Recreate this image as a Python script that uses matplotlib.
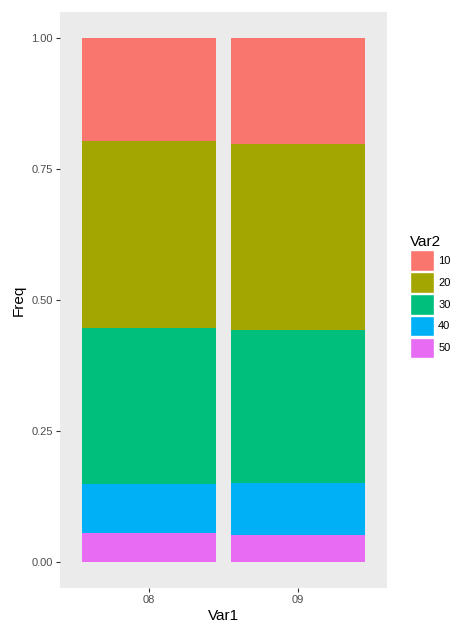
import matplotlib.pyplot as plt
from matplotlib.patches import Patch
import numpy as np

plt.rcParams['font.family'] = ['Liberation Sans', 'DejaVu Sans']

# data (fill-stacked proportions)
var1 = ['08', '09']
var2 = ['10', '20', '30', '40', '50']
freq = {
    '10': [0.197, 0.203],
    '20': [0.356, 0.355],
    '30': [0.298, 0.291],
    '40': [0.094, 0.099],
    '50': [0.055, 0.052],
}
colors = ['#F8766D', '#A3A500', '#00BF7D', '#00B0F6', '#E76BF3']

fig = plt.figure(figsize=(4.54, 6.28), dpi=100)
ax = fig.add_axes([60 / 454, 40 / 628, 327 / 454, 576 / 628])
ax.set_facecolor('#EBEBEB')

x = np.arange(1, len(var1) + 1)
bottom = np.zeros(len(var1))
# ggplot stacks the last level at the bottom
for name, col in reversed(list(zip(var2, colors))):
    vals = np.array(freq[name])
    ax.bar(x, vals, width=0.9, bottom=bottom, color=col, linewidth=0)
    bottom += vals

ax.set_xlim(0.4, 2.6)
ax.set_ylim(-0.05, 1.05)
ax.set_xticks(x)
ax.set_xticklabels(var1)
ax.set_yticks([0, 0.25, 0.5, 0.75, 1.0])
ax.set_yticklabels(['0.00', '0.25', '0.50', '0.75', '1.00'])
ax.tick_params(colors='#333333', labelcolor='#4D4D4D', labelsize=8,
               length=3, width=0.8, pad=2)
for s in ax.spines.values():
    s.set_visible(False)
ax.set_xlabel('Var1', fontsize=11, labelpad=3)
ax.set_ylabel('Freq', fontsize=11, labelpad=4)

handles = [Patch(facecolor=c, edgecolor='white', linewidth=1) for c in colors]
leg = fig.legend(handles, var2, title='Var2', loc='upper left',
                 bbox_to_anchor=(401 / 454, 1 - 226 / 628), frameon=False,
                 fontsize=8, title_fontsize=11, handlelength=2.2,
                 handleheight=2.5, labelspacing=0.1, handletextpad=0.35,
                 borderpad=0.3)
leg._legend_box.align = 'left'

fig.savefig('out.png', dpi=100)
